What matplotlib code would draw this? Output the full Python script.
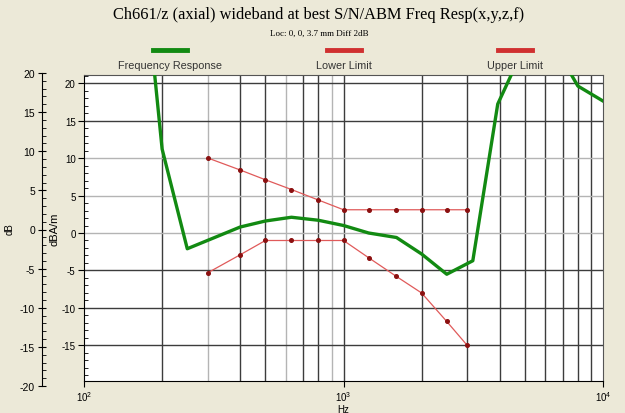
import numpy as np
import matplotlib
matplotlib.use("Agg")
import matplotlib.pyplot as plt
from matplotlib.lines import Line2D
from matplotlib.ticker import MultipleLocator, FixedLocator, NullFormatter

plt.rcParams["axes.unicode_minus"] = False
plt.rcParams["font.family"] = ["Liberation Sans", "DejaVu Sans"]

# frequency response (green)
resp_f = [180, 200, 250, 400, 500, 630, 800, 1000, 1250, 1600, 2000, 2500, 3150, 3930, 5000, 6500, 8000, 10000]
resp_db = [27, 11.2, -2.1, 0.8, 1.6, 2.1, 1.7, 1.0, 0.0, -0.6, -2.8, -5.5, -3.7, 17.2, 25, 25, 19.6, 17.6]

# limits (red)
upper_f = [300, 400, 500, 630, 800, 1000, 1250, 1600, 2000, 2500, 3000]
upper_db = [10.0, 8.4, 7.1, 5.8, 4.4, 3.1, 3.1, 3.1, 3.1, 3.1, 3.1]
lower_f = [300, 400, 500, 630, 800, 1000, 1250, 1600, 2000, 2500, 3000]
lower_db = [-5.3, -2.9, -1.0, -1.0, -1.0, -1.0, -3.3, -5.8, -8.0, -11.8, -15.0]

legend_names = ["Frequency Response", "Lower Limit", "Upper Limit"]
title = "Ch661/z (axial) wideband at best S/N/ABM Freq Resp(x,y,z,f)"
subtitle = "Loc: 0, 0, 3.7 mm Diff 2dB"

bg = "#ece9d8"
green = "#128a12"
red = "#e05a5a"
W, H = 625, 414

fig = plt.figure(figsize=(W / 100, H / 100), dpi=100)
fig.patch.set_facecolor(bg)

def fx(px):
    return px / W

def fy(py):
    return 1 - py / H

# main axes
ax = fig.add_axes([fx(84), fy(381.5), (603 - 84) / W, (381.5 - 76) / H])
ax.set_facecolor("white")
ax.set_xscale("log")
ax.set_xlim(100, 10000)
ax.set_ylim(-19.67, 21.07)

# grid
dark, light = "#3c3c3c", "#b4b4b4"
for dec in [100, 1000]:
    for m in range(2, 10):
        c = light if (dec == 100 and m in (3, 6, 9)) else dark
        ax.axvline(m * dec, color=c, lw=1.0, zorder=1)
ax.axvline(1000, color=dark, lw=1.0, zorder=1)
for v in [20, 15, 10, 5, 0, -5, -10, -15]:
    c = light if v in (10, 5, 0) else dark
    ax.axhline(v, color=c, lw=1.0, zorder=1)

ax.plot(upper_f, upper_db, color=red, lw=0.9, marker="o", ms=2.6,
        mfc="#8b1010", mec="#8b1010", zorder=3)
ax.plot(lower_f, lower_db, color=red, lw=0.9, marker="o", ms=2.6,
        mfc="#8b1010", mec="#8b1010", zorder=3)
ax.plot(resp_f, resp_db, color=green, lw=2.4, zorder=4)

ax.xaxis.set_major_locator(FixedLocator([100, 1000, 10000]))
ax.xaxis.set_minor_formatter(NullFormatter())
ax.tick_params(axis="x", which="minor", length=0)
ax.tick_params(axis="x", which="major", direction="out", length=4, labelsize=7, pad=2)
ax.yaxis.set_major_locator(FixedLocator([-15, -10, -5, 0, 5, 10, 15, 20]))
ax.yaxis.set_minor_locator(MultipleLocator(1))
ax.tick_params(axis="y", which="major", direction="out", length=4, labelsize=7, pad=2)
ax.tick_params(axis="y", which="minor", direction="in", length=3)
for s in ["top", "right"]:
    ax.spines[s].set_color("#555555")
ax.set_xlabel("Hz", fontsize=7, labelpad=1)

# outer dB axis
ax2 = fig.add_axes([fx(42), fy(387), 0.001, (387 - 74) / H])
ax2.set_ylim(-20, 20)
ax2.patch.set_visible(False)
for s in ["top", "right", "bottom"]:
    ax2.spines[s].set_visible(False)
ax2.set_xticks([])
ax2.yaxis.set_major_locator(MultipleLocator(5))
ax2.yaxis.set_minor_locator(MultipleLocator(1))
ax2.tick_params(axis="y", which="major", direction="inout", length=6, labelsize=7.5, pad=2)
ax2.tick_params(axis="y", which="minor", direction="in", length=3)

# axis labels
fig.text(fx(10), fy(229), "dB", rotation=90, ha="center", va="center", fontsize=7)
fig.text(fx(54), fy(229), "dBA/m", rotation=90, ha="center", va="center", fontsize=8)

# titles
fig.text(fx(319), fy(15), title, ha="center", va="center",
         fontsize=11.8, family="Liberation Serif")
fig.text(fx(319), fy(34), subtitle, ha="center", va="center",
         fontsize=6.5, family="Liberation Serif")

# legend
leg_x = [170, 344, 515]
leg_c = [green, "#d03030", "#d03030"]
for x, c, name in zip(leg_x, leg_c, legend_names):
    fig.add_artist(Line2D([fx(x - 17), fx(x + 17)], [fy(51), fy(51)],
                          color=c, lw=3.5, transform=fig.transFigure))
    fig.text(fx(x), fy(66), name, ha="center", va="center", fontsize=7.8, color="#333333")

fig.savefig("out.png", dpi=100, facecolor=bg)
